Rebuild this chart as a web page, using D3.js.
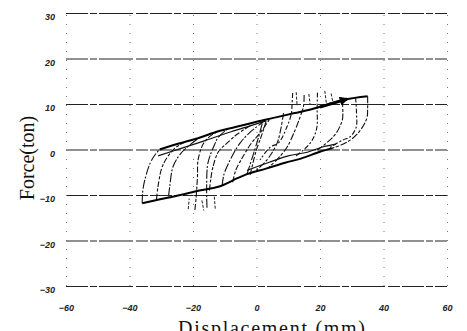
<!DOCTYPE html>
<html>
<head>
<meta charset="utf-8">
<script src="https://cdn.jsdelivr.net/npm/d3@7"></script>
<style>
  html, body { margin: 0; padding: 0; background: #fff; }
  svg { display: block; }
  .tick text { font-family: "Liberation Sans", Arial, sans-serif; font-style: italic; font-weight: bold; font-size: 9px; fill: #222; }
  .axis-title { font-family: "Liberation Serif", "DejaVu Serif", serif; font-size: 20px; fill: #111; }
</style>
</head>
<body>
<svg id="chart" width="467" height="331"></svg>
<script>
// tick values
const xTicks = [-60, -40, -20, 0, 20, 40, 60];
const yTicks = [-30, -20, -10, 0, 10, 20, 30];

// envelope branches (displacement mm, force ton)
const upperEnvelope = [[-30.5, 0], [-25, 1.2], [-18, 2.6], [-12, 4.0], [-5, 5.2], [0, 6.1], [5, 6.9], [12, 8.0], [17, 8.8], [22, 9.8], [28, 11], [35, 11.7]];
const upperEnvelope2 = [[-31, -1.4], [-24, 0.2], [-16, 2.0], [-8, 3.9], [-2, 5.2], [3, 6.3]];
const lowerEnvelope = [[-36, -11.8], [-30, -10.9], [-24, -10], [-18, -9], [-12, -8.2], [-6, -6.3], [-3, -5.4], [3, -4.2], [9, -2.9], [14, -2.0], [20, -0.5], [24, 0.3]];
const lowerEnvelope2 = [[-3, -4.6], [4, -2.8], [10, -1.4], [16, -0.6], [21, 0.6], [25, 1.2]];
const arrowUpper = [[20, 9.3], [28.5, 11.1]];

// reloading curves, left side (bottom to top)
const reloadCurves = [
  [[-36, -11.8], [-35.8, -9], [-35, -6.2], [-33.5, -3], [-32, -1.2], [-30.5, 0]],
  [[-31.5, -11], [-31, -8], [-29.8, -4], [-28, -1.6], [-25.7, 0.3], [-23, 1.5]],
  [[-27.7, -10.3], [-27.3, -8], [-26.3, -3.8], [-24, -1], [-21, 1], [-18, 2.6]],
  [[-19.4, -13.3], [-19, -10.4], [-18.6, -6], [-18.4, -2.3], [-16.8, 1.2], [-14.5, 3], [-12, 4]],
  [[-15.6, -12.8], [-15.7, -8.2], [-15.3, -3], [-13.5, 0.6], [-12, 2.7], [-9, 4.6]],
  [[-14.8, -9], [-14.5, -7], [-13.7, -3.8], [-12, -0.5], [-9.3, 1.4], [-6, 3.4], [-2, 5.2]],
  [[-10.8, -8], [-10.3, -5.6], [-8.3, -2.3], [-5.2, 1.4], [-2, 3.8], [2, 6]],
  [[-7.5, -7.2], [-6.5, -4.5], [-4.3, -1.6], [-1.5, 1.5], [1.1, 3.6], [4, 6.5]],
  [[-3, -5.4], [-1.2, -1.5], [0.6, 2.6], [2, 6.2]],
  [[-2, -5.6], [-0.2, -0.5], [1.8, 3.5], [3.2, 6.6]]
];

// unloading curves, right side (top to bottom)
const unloadCurves = [
  [[35, 11.7], [35, 9], [34.8, 7], [33, 4.5], [30, 2.3], [27, 1.1], [24, 0.3]],
  [[31.2, 11.4], [31.5, 8], [31.4, 4.9], [29.5, 2.8], [27.2, 2.1], [23, 0.4]],
  [[27, 10.9], [27.2, 8], [27, 6.4], [25, 3.5], [22, 1.4], [19, -0.2]],
  [[19.2, 12.5], [19.1, 9], [19, 4.8], [17.5, 2], [15, 0], [12, -1.6]],
  [[15, 12], [14.8, 9.5], [13.7, 7.1], [12, 4], [9.6, 0.5], [6.5, -2.2], [4, -3.8]],
  [[11.4, 12.4], [11.2, 10], [11, 7.9], [9.6, 5], [7, 1.5], [4.3, 0.5], [1.1, -2.3]],
  [[8.5, 8], [8.3, 7], [7.5, 4], [6.5, 1.4], [3.3, -2.3], [0, -4.5]]
];

// short spikes past the envelopes
const spikes = [
  [[12.5, 12.6], [12.8, 9.6]],
  [[16.5, 12.2], [16.9, 9.8]],
  [[21.5, 12.9], [22, 10.2]],
  [[23.5, 12.3], [24, 10.6]],
  [[-21.5, -13.1], [-21.2, -10.8]],
  [[-17.2, -11.2], [-16.6, -13.4]],
  [[-13, -13], [-13.3, -10.2]]
];

const svg = d3.select('#chart');

const x = d3.scaleLinear().domain([-60, 60]).range([66, 447]);
const y = d3.scaleLinear().domain([-30, 30]).range([286, 13]);

// horizontal grid + y labels
const yAxis = svg.append('g')
  .attr('transform', 'translate(66,0)')
  .call(d3.axisLeft(y).tickValues(yTicks).tickSize(-(447 - 66)).tickPadding(11).tickFormat(d3.format('d')));
yAxis.select('.domain').remove();
yAxis.selectAll('.tick line')
  .attr('stroke', '#222')
  .attr('stroke-width', 1.2)
  .attr('stroke-dasharray', '22,2,7,2,34,3,12,2');
yAxis.selectAll('.tick text').attr('dy', '0.75em').attr('dx', 0);

// vertical dotted grid + x labels
const xAxis = svg.append('g')
  .attr('transform', 'translate(0,286)')
  .call(d3.axisBottom(x).tickValues(xTicks).tickSize(-(286 - 13)).tickPadding(0).tickFormat(d3.format('d')));
xAxis.select('.domain').remove();
xAxis.selectAll('.tick line')
  .attr('stroke', '#777')
  .attr('stroke-width', 1)
  .attr('stroke-dasharray', '1,8');
xAxis.selectAll('.tick text').attr('y', 25).attr('dy', 0);

const line = d3.line()
  .x(d => x(d[0]))
  .y(d => y(d[1]))
  .curve(d3.curveCatmullRom.alpha(0.5));

const plot = svg.append('g');

plot.selectAll('path.reload')
  .data(reloadCurves)
  .join('path')
  .attr('class', 'reload')
  .attr('d', line)
  .attr('fill', 'none')
  .attr('stroke', '#111')
  .attr('stroke-width', 1.1)
  .attr('stroke-dasharray', (d, i) => i % 2 ? '6,2,3,1.5' : '9,1.5,2,2');

plot.selectAll('path.unload')
  .data(unloadCurves)
  .join('path')
  .attr('class', 'unload')
  .attr('d', line)
  .attr('fill', 'none')
  .attr('stroke', '#111')
  .attr('stroke-width', 1.1)
  .attr('stroke-dasharray', (d, i) => i % 2 ? '5,2,2,2' : '7,2,3,1.5');

plot.selectAll('path.spike')
  .data(spikes)
  .join('path')
  .attr('class', 'spike')
  .attr('d', line)
  .attr('fill', 'none')
  .attr('stroke', '#222')
  .attr('stroke-width', 1)
  .attr('stroke-dasharray', '3,1.5');

plot.selectAll('path.envelope2')
  .data([upperEnvelope2, lowerEnvelope2])
  .join('path')
  .attr('class', 'envelope2')
  .attr('d', line)
  .attr('fill', 'none')
  .attr('stroke', '#111')
  .attr('stroke-width', 1.2);

plot.selectAll('path.envelope')
  .data([upperEnvelope, lowerEnvelope])
  .join('path')
  .attr('class', 'envelope')
  .attr('d', line)
  .attr('fill', 'none')
  .attr('stroke', '#000')
  .attr('stroke-width', 2);

svg.append('defs').append('marker')
  .attr('id', 'head')
  .attr('viewBox', '0 0 10 10')
  .attr('refX', 8).attr('refY', 5)
  .attr('markerWidth', 4).attr('markerHeight', 3)
  .attr('orient', 'auto')
  .append('path').attr('d', 'M0,0L10,5L0,10z').attr('fill', '#000');

plot.append('path')
  .datum(arrowUpper)
  .attr('d', d3.line().x(d => x(d[0])).y(d => y(d[1])))
  .attr('stroke', '#000')
  .attr('stroke-width', 3)
  .attr('marker-end', 'url(#head)');

// axis titles
svg.append('text')
  .attr('class', 'axis-title')
  .attr('transform', 'translate(34,158) rotate(-90)')
  .attr('text-anchor', 'middle')
  .text('Force(ton)');

svg.append('text')
  .attr('class', 'axis-title')
  .attr('x', 178)
  .attr('y', 335)
  .attr('textLength', 187)
  .attr('lengthAdjust', 'spacing')
  .text('Displacement (mm)');
</script>
</body>
</html>
